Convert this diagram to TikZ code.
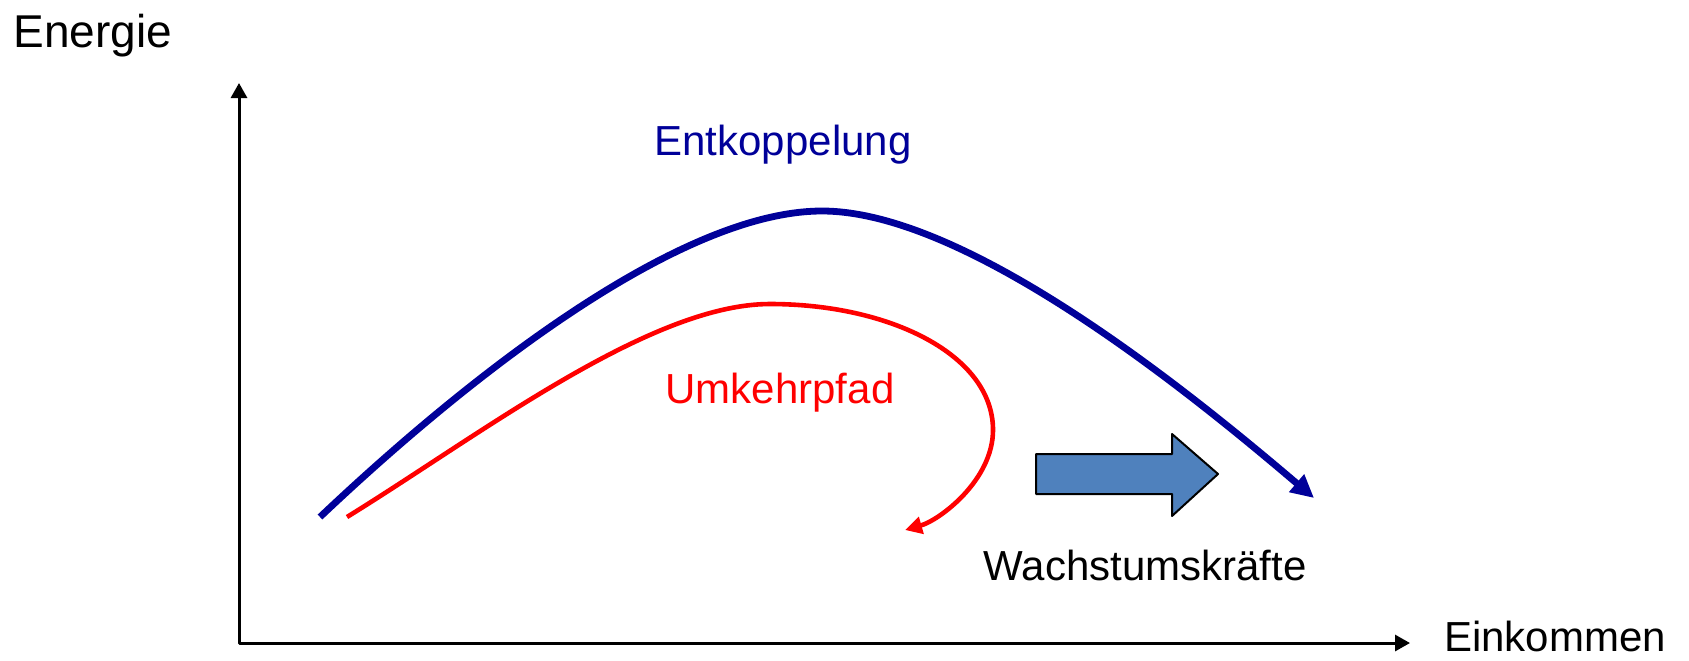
\documentclass[tikz,border=0pt]{standalone}
\usepackage{fontspec}
\setmainfont{Liberation Sans}
\usepackage{tikz}
\usetikzlibrary{arrows.meta}
\definecolor{curveblue}{HTML}{000099}
\definecolor{curvered}{HTML}{FF0000}
\definecolor{forceblue}{HTML}{4F81BD}
\tikzset{
every picture/.style={line join=round},
axis line/.style={
  draw=black,
  line width=1.5pt,
  {Triangle[length=7.5pt,width=8pt]}-{Triangle[length=7.5pt,width=8pt]}
},
decoupling path/.style={
  draw=curveblue,
  line width=3.4pt,
  -{Triangle[length=11.5pt,width=11pt]}
},
reversal path/.style={
  draw=curvered,
  line width=2.3pt,
  -{Triangle[length=8.5pt,width=8.5pt]}
},
force arrow/.style={draw=black, fill=forceblue, line width=1pt},
fig label/.style={inner sep=0pt, text=black, font=\fontsize{21}{25}\selectfont},
axis label/.style={fig label, font=\fontsize{23}{28}\selectfont}
}

\begin{document}
\begin{tikzpicture}[x=0.5pt,y=-0.5pt]
\useasboundingbox (0,0) rectangle (1689,660);
\coordinate (ytop) at (239,83);
\coordinate (origin) at (239,643);
\coordinate (xend) at (1410,643);
\draw[axis line] (ytop) -- (origin) -- (xend);
\node[axis label, anchor=base west] (energy) at (13,47) {Energie};
\node[fig label, anchor=base] (income) at (1555,651) {Einkommen};
\coordinate (blue start) at (320,517);
\coordinate (blue top) at (822,211);
\coordinate (blue end) at (1314,498);
\draw[decoupling path] (blue start) .. controls (470,375) and (680,211) .. (blue top)
  .. controls (970,211) and (1200,401) .. (blue end);
\node[fig label, text=curveblue, anchor=base] (decoupling) at (783,155) {Entkoppelung};
\coordinate (red start) at (347,517);
\coordinate (red top) at (770,304);
\coordinate (red turn) at (993,430);
\coordinate (red end) at (905,530);
\draw[reversal path] (red start) .. controls (480,435) and (650,304) .. (red top)
  .. controls (890,304) and (993,355) .. (red turn)
  .. controls (993,480) and (940,520) .. (red end);
\node[fig label, text=curvered, anchor=base] (reversal) at (780,403) {Umkehrpfad};
\draw[force arrow] (1036,454) -- (1172,454) -- (1172,434) -- (1218,474)
  -- (1172,516) -- (1172,494) -- (1036,494) -- cycle;
\node[fig label, anchor=base] (forces) at (1145,580) {Wachstumskräfte};
\end{tikzpicture}
\end{document}
